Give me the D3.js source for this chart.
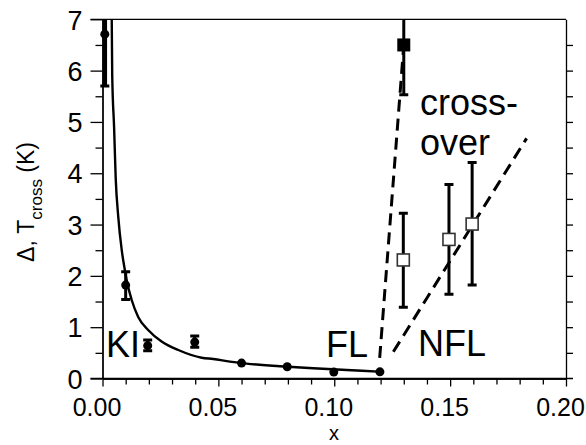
<!DOCTYPE html>
<html>
<head>
<meta charset="utf-8">
<script src="https://cdn.jsdelivr.net/npm/d3@7"></script>
<style>
  body { margin: 0; background: #fff; }
  svg { display: block; font-family: "Liberation Sans", Arial, sans-serif; }
</style>
</head>
<body>
<svg id="chart" width="586" height="445"></svg>
<script>
// filled circles (KI / FL region)
const circX  = [0.001, 0.0100, 0.0195, 0.0398, 0.0600, 0.0797, 0.0998, 0.1197];
const circY  = [6.71, 1.82, 0.64, 0.71, 0.30, 0.23, 0.125, 0.13];
const circLo = [5.70, 1.54, 0.54, 0.61, null, null, null, null];
const circHi = [7.60, 2.08, 0.75, 0.83, null, null, null, null];

// filled square
const fillSqX = [0.1300], fillSqY = [6.50], fillSqLo = [5.53], fillSqHi = [7.50];

// open squares (crossover)
const openSqX  = [0.1298, 0.1495, 0.1595];
const openSqY  = [2.31, 2.71, 3.01];
const openSqLo = [1.39, 1.64, 1.82];
const openSqHi = [3.22, 3.78, 4.21];

// fitted solid curve
const fitX = [0.0039, 0.0042, 0.0050, 0.0057, 0.0068, 0.0083, 0.0097, 0.0104, 0.0126, 0.0154,
              0.0198, 0.0255, 0.0327, 0.0428, 0.0478, 0.0550, 0.0622, 0.0765, 0.0909, 0.1053, 0.1210];
const fitY = [7.40, 5.90, 4.90, 3.90, 3.15, 2.50, 2.10, 1.92, 1.53, 1.20,
              0.94, 0.72, 0.555, 0.405, 0.38, 0.33, 0.29, 0.24, 0.20, 0.166, 0.13];

// dashed guide lines
const dash1X = [0.1196, 0.1300], dash1Y = [0.40, 6.50];
const dash2X = [0.1255, 0.1830], dash2Y = [0.52, 4.68];

const xTicks = [0, 0.05, 0.10, 0.15, 0.20];
const yTicks = [0, 1, 2, 3, 4, 5, 6, 7];

const svg = d3.select("#chart");
const x = d3.scaleLinear().domain([0, 0.2]).range([102.5, 566]);
const y = d3.scaleLinear().domain([0, 7]).range([378.5, 19.3]);

// clip only at the top / bottom of the frame so edge markers stay whole
svg.append("defs").append("clipPath").attr("id", "clip")
  .append("rect").attr("x", 90).attr("y", 19.3).attr("width", 490).attr("height", 362);

// axes
const left = svg.append("g").attr("transform", `translate(${x(0)},0)`)
  .call(d3.axisLeft(y).tickValues(yTicks).tickSize(12).tickSizeOuter(0).tickFormat(d3.format("d")));
svg.append("g").attr("transform", `translate(${x(0)},0)`)
  .call(d3.axisLeft(y).tickValues(d3.range(0.5, 7, 1)).tickSize(7).tickSizeOuter(0).tickFormat(""));
const bottom = svg.append("g").attr("transform", `translate(0,${y(0)})`)
  .call(d3.axisBottom(x).tickValues(xTicks).tickSize(8).tickSizeOuter(0).tickFormat(d3.format(".2f")));
svg.append("g").attr("transform", `translate(0,${y(0)})`)
  .call(d3.axisBottom(x).tickValues(d3.range(1, 20).filter(i => i % 5).map(i => i / 100))
    .tickSize(6).tickSizeOuter(0).tickFormat(""));
svg.append("g").attr("transform", `translate(${x(0.2)},0)`)
  .call(d3.axisRight(y).tickValues(d3.range(0.5, 7, 0.5)).tickSize(7).tickSizeOuter(0).tickFormat(""));

svg.selectAll(".domain").attr("stroke", "#000").attr("stroke-width", 1.3);
svg.selectAll(".tick line").attr("stroke", "#000").attr("stroke-width", 1.3);

left.selectAll("text").attr("font-size", 27).attr("x", -20).attr("dy", "0.36em")
  .attr("fill", "#000").attr("font-family", "Liberation Sans, Arial, sans-serif");
bottom.selectAll("text").attr("font-size", 25).attr("dx", -6).attr("y", 20).attr("dy", "0.71em")
  .attr("fill", "#000").attr("font-family", "Liberation Sans, Arial, sans-serif");

// frame lines
svg.append("line").attr("x1", x(0) - 12).attr("x2", x(0.2)).attr("y1", y(7)).attr("y2", y(7))
  .attr("stroke", "#000").attr("stroke-width", 1.3);
svg.append("line").attr("x1", x(0) - 12).attr("x2", x(0.2) + 7).attr("y1", y(0)).attr("y2", y(0))
  .attr("stroke", "#000").attr("stroke-width", 1.3);

const plot = svg.append("g").attr("clip-path", "url(#clip)");

// fitted curve
plot.append("path")
  .datum(fitX.map((d, i) => [d, fitY[i]]))
  .attr("fill", "none").attr("stroke", "#000").attr("stroke-width", 2.4)
  .attr("d", d3.line().x(d => x(d[0])).y(d => y(d[1])).curve(d3.curveMonotoneX));

// dashed lines
[[dash1X, dash1Y], [dash2X, dash2Y]].forEach(([dx, dy]) => {
  plot.append("path")
    .datum(dx.map((d, i) => [d, dy[i]]))
    .attr("fill", "none").attr("stroke", "#000").attr("stroke-width", 3)
    .attr("stroke-dasharray", "12,7")
    .attr("d", d3.line().x(d => x(d[0])).y(d => y(d[1])));
});

// error bars
function errorBars(xs, lo, hi, width) {
  xs.forEach((d, i) => {
    if (lo[i] == null) return;
    const g = plot.append("g").attr("stroke", "#000");
    g.append("line").attr("x1", x(d)).attr("x2", x(d)).attr("y1", y(lo[i])).attr("y2", y(hi[i]))
      .attr("stroke-width", width);
    [lo[i], hi[i]].forEach(v => {
      g.append("line").attr("x1", x(d) - 4.5).attr("x2", x(d) + 4.5).attr("y1", y(v)).attr("y2", y(v))
        .attr("stroke-width", 3);
    });
  });
}
errorBars(circX.slice(0, 1), circLo.slice(0, 1), circHi.slice(0, 1), 4.5);
errorBars(circX.slice(1), circLo.slice(1), circHi.slice(1), 3);
errorBars(fillSqX, fillSqLo, fillSqHi, 3);
errorBars(openSqX, openSqLo, openSqHi, 3);

plot.selectAll(".circ").data(circX).join("circle").attr("class", "circ")
  .attr("cx", d => x(d)).attr("cy", (d, i) => y(circY[i])).attr("r", 4.5).attr("fill", "#000");

plot.selectAll(".fsq").data(fillSqX).join("rect").attr("class", "fsq")
  .attr("x", d => x(d) - 6.5).attr("y", (d, i) => y(fillSqY[i]) - 6.5)
  .attr("width", 13).attr("height", 13).attr("fill", "#000");

plot.selectAll(".osq").data(openSqX).join("rect").attr("class", "osq")
  .attr("x", d => x(d) - 6).attr("y", (d, i) => y(openSqY[i]) - 6)
  .attr("width", 12).attr("height", 12).attr("fill", "#fff")
  .attr("stroke", "#333").attr("stroke-width", 1.6);

// region labels
const labels = [
  { t: "KI", x: 106, y: 357 },
  { t: "FL", x: 326, y: 357 },
  { t: "NFL", x: 418, y: 356 },
  { t: "cross-", x: 420, y: 115 },
  { t: "over", x: 420, y: 155 }
];
svg.selectAll(".lab").data(labels).join("text").attr("class", "lab")
  .attr("x", d => d.x).attr("y", d => d.y).attr("font-size", 36).attr("fill", "#000")
  .text(d => d.t);

// axis titles
svg.append("text").attr("x", 334).attr("y", 440).attr("text-anchor", "middle")
  .attr("font-size", 20).text("x");

const yt = svg.append("text").attr("transform", "translate(34,202) rotate(-90)")
  .attr("text-anchor", "middle").attr("font-size", 23);
yt.append("tspan").text("Δ, T");
yt.append("tspan").attr("font-size", 17).attr("dy", 8).text("cross");
yt.append("tspan").attr("dy", -8).text(" (K)");
</script>
</body>
</html>
